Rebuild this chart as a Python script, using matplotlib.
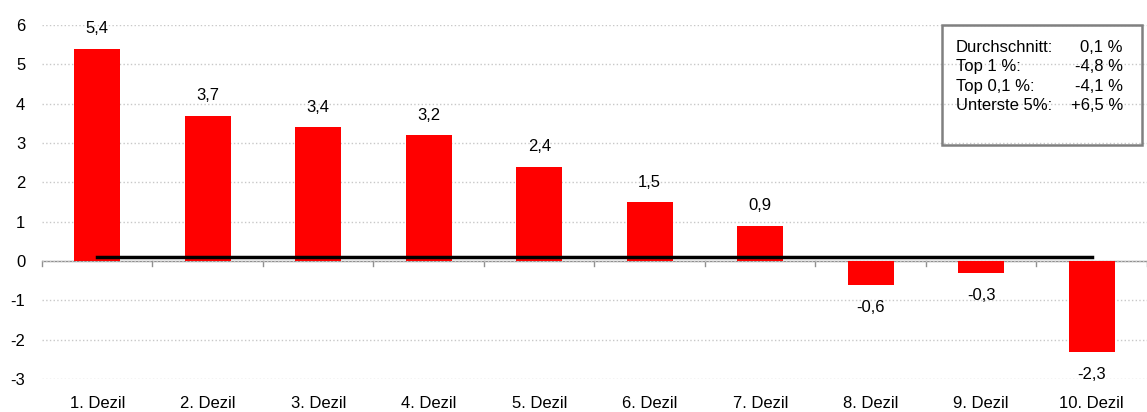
import matplotlib.pyplot as plt
from matplotlib.patches import Rectangle

# Veränderung nach Dezilen (in %)
kategorien = ["1. Dezil", "2. Dezil", "3. Dezil", "4. Dezil", "5. Dezil",
              "6. Dezil", "7. Dezil", "8. Dezil", "9. Dezil", "10. Dezil"]
werte = [5.4, 3.7, 3.4, 3.2, 2.4, 1.5, 0.9, -0.6, -0.3, -2.3]
durchschnitt = 0.1

info_namen = ["Durchschnitt:", "Top 1 %:", "Top 0,1 %:", "Unterste 5%:"]
info_werte = ["0,1 %", "-4,8 %", "-4,1 %", "+6,5 %"]

plt.rcParams['font.family'] = ['Liberation Sans', 'DejaVu Sans']
plt.rcParams['axes.unicode_minus'] = False

fig = plt.figure(figsize=(11.47, 4.12), dpi=100)
ax = fig.add_axes([0.0366, 0.080, 0.9634, 0.859])

x = list(range(len(werte)))
ax.bar(x, werte, width=0.42, color='#ff0000', zorder=2)

# Durchschnittslinie
ax.plot([x[0], x[-1]], [durchschnitt, durchschnitt], color='black', lw=2.5, zorder=3)

for xi, v in zip(x, werte):
    txt = f"{v:.1f}".replace('.', ',')
    if v >= 0:
        ax.annotate(txt, (xi, v), xytext=(0, 9), textcoords='offset points',
                    ha='center', va='bottom', fontsize=12)
    else:
        ax.annotate(txt, (xi, v), xytext=(0, -11), textcoords='offset points',
                    ha='center', va='top', fontsize=12)

ax.set_xlim(-0.5, len(werte) - 0.5)
ax.set_ylim(-3, 6)
ax.set_yticks(range(-3, 7))
ax.yaxis.grid(True, color='#c8c8c8', linestyle=':', lw=1, zorder=0)
ax.axhline(0, color='#909090', lw=1, zorder=1)

for s in ax.spines.values():
    s.set_visible(False)

ax.set_xticks(x)
ax.set_xticklabels(kategorien, fontsize=12)
ax.tick_params(axis='x', length=0, pad=12)
ax.tick_params(axis='y', length=0, labelsize=12, pad=12)
for b in range(len(werte) + 1):
    ax.plot([b - 0.5, b - 0.5], [0, -0.12], color='#909090', lw=1, zorder=1, clip_on=False)

# Infobox
box = Rectangle((942 / 1147, 1 - 145 / 412), 200 / 1147, 120 / 412, transform=fig.transFigure,
                fill=False, edgecolor='#808080', lw=1.8)
fig.patches.append(box)
for i, (n, w) in enumerate(zip(info_namen, info_werte)):
    yy = 1 - (47 + i * 19.6) / 412
    fig.text(956 / 1147, yy, n, fontsize=12, va='center', ha='left')
    fig.text(1123 / 1147, yy, w, fontsize=12, va='center', ha='right')

fig.savefig('out.png', dpi=100)
